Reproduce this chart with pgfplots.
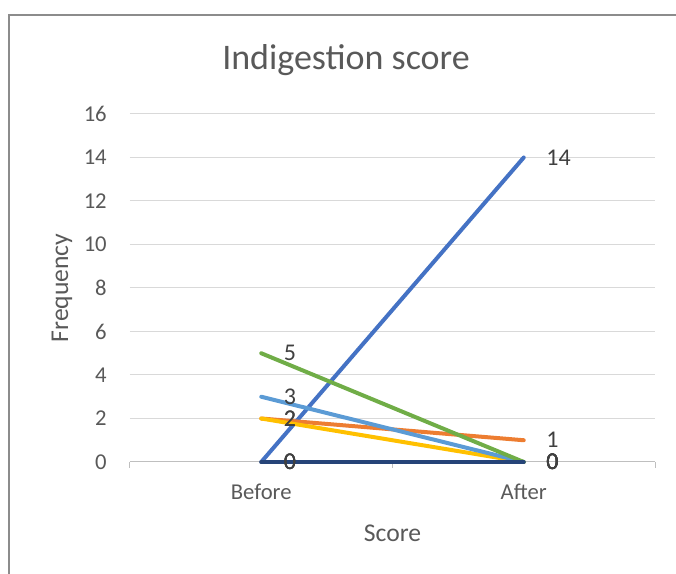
\documentclass[border=0pt]{standalone}
\usepackage{pgfplots}
\pgfplotsset{compat=1.18}
\usepackage{fontspec}
\setmainfont{Carlito}
\definecolor{txt}{HTML}{595959}
\definecolor{lbl}{HTML}{404040}
\definecolor{gridc}{HTML}{D9D9D9}
\definecolor{axc}{HTML}{BFBFBF}
\definecolor{frm}{HTML}{8C8C8C}
\definecolor{s1}{HTML}{4472C4}
\definecolor{s2}{HTML}{ED7D31}
\definecolor{s3}{HTML}{A5A5A5}
\definecolor{s4}{HTML}{FFC000}
\definecolor{s5}{HTML}{5B9BD5}
\definecolor{s6}{HTML}{70AD47}
\definecolor{s7}{HTML}{264478}
\begin{document}
\begin{tikzpicture}
\useasboundingbox (-97.5pt,-84pt) rectangle (409.5pt,346.5pt);
\draw[frm, line width=1.1pt] (-90.9pt,-90pt) -- (-90.9pt,335.25pt) -- (420pt,335.25pt);
\begin{axis}[
  at={(0,0)}, anchor=south west,
  scale only axis, width=393.75pt, height=261pt,
  xmin=-0.5, xmax=1.5, ymin=0, ymax=16,
  clip=false,
  /pgf/number format/assume math mode=true,
  axis x line*=bottom, axis y line*=left,
  x axis line style={axc, line width=0.75pt, -},
  y axis line style={draw=none},
  ytick={0,2,...,16},
  xtick={0,1}, xticklabels={Before,After},
  major tick length=0pt,
  extra x ticks={-0.5,0.5,1.5}, extra x tick labels={},
  extra x tick style={major tick length=4.5pt, tick align=outside, xmajorgrids=false, tick style={axc, line width=0.75pt}},
  ymajorgrids, grid style={gridc, line width=0.75pt},
  tick label style={font=\fontsize{17}{20}\selectfont, text=txt},
  yticklabel style={anchor=east, inner sep=0pt, xshift=-17.25pt},
  xticklabel style={anchor=north, inner sep=0pt, yshift=-16pt},
  nodes near coords,
  every node near coord/.append style={anchor=west, inner sep=0pt, xshift=15.5pt, font=\fontsize{18}{21}\selectfont, text=lbl},
  every axis plot/.append style={line width=3pt, line cap=round, mark=none},
]
\addplot[s1] coordinates {(0,0) (1,14)};
\addplot[s2] coordinates {(0,2) (1,1)};
\addplot[s3] coordinates {(0,0) (1,0)};
\addplot[s4] coordinates {(0,2) (1,0)};
\addplot[s5] coordinates {(0,3) (1,0)};
\addplot[s6] coordinates {(0,5) (1,0)};
\addplot[s7] coordinates {(0,0) (1,0)};
\end{axis}
\node[txt, font=\fontsize{27}{32}\selectfont] at (162pt,301.5pt) {Indigestion score};
\node[txt, font=\fontsize{19.2}{23}\selectfont, rotate=90] at (-51pt,130.5pt) {Frequency};
\node[txt, font=\fontsize{19.2}{23}\selectfont] at (196.9pt,-53.25pt) {Score};
\end{tikzpicture}
\end{document}
